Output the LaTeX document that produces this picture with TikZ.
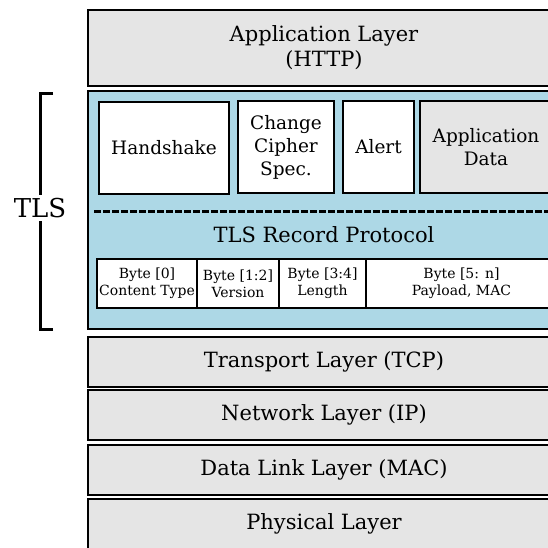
\documentclass[tikz,border=0pt]{standalone}
\usepackage{fontspec}
\setmainfont{DejaVu Serif}
\usetikzlibrary{arrows}
\definecolor{layergray}{HTML}{E5E5E5}
\definecolor{tlsblue}{HTML}{ADD8E6}
\tikzstyle{layer}=[draw=black,line width=1.6pt,fill=layergray,minimum width=472pt,minimum height=50pt,inner sep=0pt,align=center,font=\fontsize{21}{25}\selectfont]
\tikzstyle{proto}=[draw=black,line width=1.4pt,fill=white,minimum height=92pt,inner sep=0pt,align=center,font=\fontsize{18.5}{23}\selectfont]
\tikzstyle{field}=[draw=black,line width=1.4pt,fill=white,minimum height=49pt,inner sep=0pt,align=center,font=\fontsize{14}{17}\selectfont]
\tikzstyle{sep}=[draw,line width=3pt,dash pattern=on 6.5pt off 2.5pt]
\tikzstyle{bracket}=[draw,line width=3pt]

\begin{document}
\begin{tikzpicture}[x=1pt,y=-1pt]
				\clip (0,0) rectangle (548,547);
				\fill[white] (0,0) rectangle (548,547);

				% First we draw the layers of the stack
				\node[layer, minimum height=76pt] (app) at (324,48) {Application Layer\\(HTTP)};
				\node[layer, fill=tlsblue, minimum height=238pt] (tls) at (324,210) {};
				\foreach \pos/\name/\text in {{(324,362)/tcp/Transport Layer (TCP)}, {(324,415)/ip/Network Layer (IP)},
										{(324,470)/mac/Data Link Layer (MAC)}, {(324,524)/phy/Physical Layer}}
				\node[layer] (\name) at \pos {\text};

				% Then the protocols on top of the record layer
				\foreach \pos/\name/\boxw/\text in {{(164,148)/hs/130/Handshake}, {(286,147)/ccs/96/{Change\\Cipher\\Spec.}},
										{(378.5,147)/alert/71/Alert}}
				\node[proto, minimum width=\boxw pt] (\name) at \pos {\text};
				\node[proto, fill=layergray, minimum width=132pt] (appdata) at (486,147) {Application\\Data};

				\path[sep] (94,211) -- (560,211);
				\node[font=\fontsize{21}{25}\selectfont] (rec) at (324,235) {TLS Record Protocol};

				% Fields of a record
				\foreach \pos/\name/\boxw/\text in {{(147,283.5)/ctype/100/{Byte [0]\\Content Type}}, {(238,283.5)/ver/82/{Byte [1:2]\\Version}},
										{(322.5,283.5)/len/87/{Byte [3:4]\\Length}}, {(461.5,283.5)/payload/191/{Byte [5: n]\\Payload, MAC}}}
				\node[field, minimum width=\boxw pt] (\name) at \pos {\text};

				% Bracket for TLS
				\node[font=\fontsize{26}{26}\selectfont] (tlslabel) at (40,208) {TLS};
				\coordinate (brtop) at (53,93);
				\coordinate (brbot) at (53,329);
				\path[bracket] (brtop) -| (tlslabel.north);
				\path[bracket] (brbot) -| (tlslabel.south);

			\end{tikzpicture}
\end{document}
